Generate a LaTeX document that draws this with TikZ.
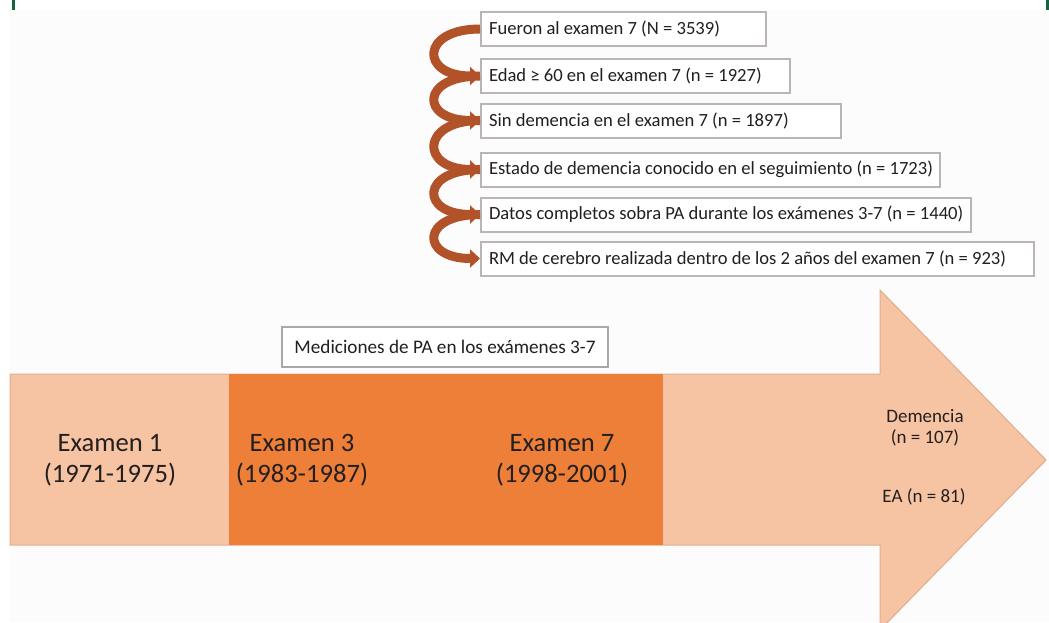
\documentclass[tikz,border=0pt]{standalone}
\usepackage{fontspec}
\setmainfont{Carlito}
\usepackage{tikz}
\usetikzlibrary{
	arrows.meta,
	calc,
	positioning,
}
\definecolor{peach}{RGB}{246,196,163}
\definecolor{peachline}{RGB}{224,172,142}
\definecolor{deeporange}{RGB}{238,127,57}
\definecolor{rust}{RGB}{178,82,40}
\definecolor{boxline}{RGB}{186,180,180}
\definecolor{paline}{RGB}{168,168,168}
\definecolor{framegreen}{RGB}{20,100,62}
\definecolor{offwhite}{RGB}{252,252,252}
\definecolor{ink}{RGB}{35,31,32}
\tikzset{step box/.style={draw=boxline,line width=1pt,fill=white,anchor=west,minimum height=17pt,inner xsep=4pt,inner ysep=0pt,align=flush left,text=ink,font=\fontsize{9.3}{11}\selectfont,}}
\tikzset{pa box/.style={draw=paline,line width=1.2pt,fill=white,minimum width=163pt,minimum height=20pt,text=ink,font=\fontsize{9.6}{11}\selectfont,}}
\tikzset{exam label/.style={align=center,text=ink,font=\fontsize{13.3}{15.5}\selectfont,}}
\tikzset{result label/.style={align=center,text=ink,font=\fontsize{9.5}{10.5}\selectfont,}}
\tikzset{curl/.style={rust,line width=4.5pt,-{Triangle[length=5pt,width=9pt]}}}

\begin{document}
\begin{tikzpicture}[x=0.5pt, y=-0.5pt]

\useasboundingbox (0,0) rectangle (1049,622);
\clip (0,0) rectangle (1049,622);

\fill[offwhite] (10,10) rectangle (1049,622);
\draw[framegreen, line width=1.5pt] (13,0) -- (13,10);
\draw[framegreen, line width=1.5pt] (1047,0) -- (1047,10);

% timeline arrow
\filldraw[fill=peach, draw=peachline, line width=0.5pt] (10,374) -- (880,374) -- (880,290) -- (1046,460) -- (880,630) -- (880,545) -- (10,545) -- cycle;
\fill[deeporange] (229,374) rectangle (663,545);

\node[exam label] (e1) at (110,460) {Examen 1\\(1971-1975)};
\node[exam label] (e3) at (302,460) {Examen 3\\(1983-1987)};
\node[exam label] (e7) at (562,460) {Examen 7\\(1998-2001)};

\node[result label] (dem) at (925,428) {Demencia\\(n = 107)};
\node[result label] (ea) at (924,497) {EA (n = 81)};

\node[pa box] (pa) at (445,347) {Mediciones de PA en los exámenes 3-7};

% selection steps
\foreach \n/\y/\w/\t in {
	1/29/285/{Fueron al examen 7 (N = 3539)},
	2/76/309/{Edad ≥ 60 en el examen 7 (n = 1927)},
	3/120.5/360/{Sin demencia en el examen 7 (n = 1897)},
	4/169.5/459/{Estado de demencia conocido en el seguimiento (n = 1723)},
	5/214.5/490/{Datos completos sobra PA durante los exámenes 3-7 (n = 1440)},
	6/258.5/553/{RM de cerebro realizada dentro de los 2 años del examen 7 (n = 923)}}{
	\pgfmathsetmacro{\tw}{\w * 0.5 - 8}
	\node[step box, text width=\tw pt](s\n) at(480,\y){\mbox{\t}};
}

\foreach \n [evaluate=\n as \m using int(\n+1)] in {1,...,5}{
	\draw[curl] (s\n.west) .. controls +(-60,0) and +(-60,0) .. (s\m.west);
}

\end{tikzpicture}
\end{document}
